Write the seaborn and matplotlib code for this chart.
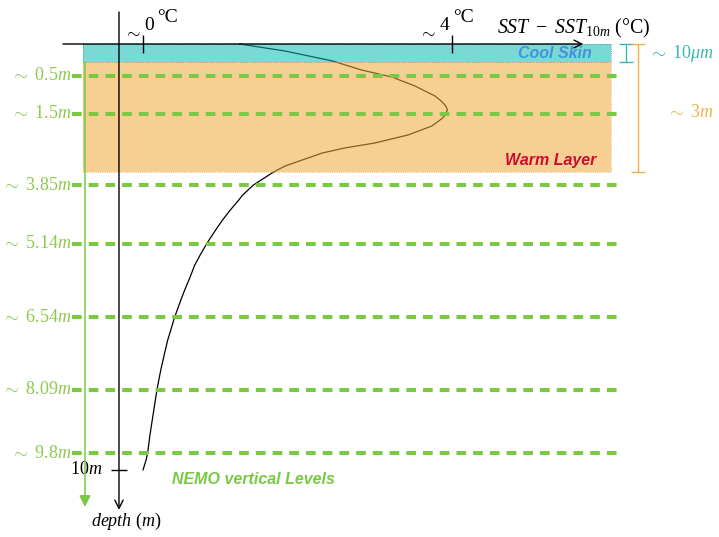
import numpy as np
import matplotlib
matplotlib.use("Agg")
import matplotlib.pyplot as plt
from matplotlib.patches import Rectangle
import seaborn as sns

# NEMO vertical levels (m)
level_depths = [0.5, 1.5, 3.85, 5.14, 6.54, 8.09, 9.8]
level_labels = ["0.5", "1.5", "3.85", "5.14", "6.54", "8.09", "9.8"]

# SST - SST10m profile: depth (m) and temperature difference (degC)
profile_depth = [0.0, 3.9e-6, 9.4e-6, 0.286, 0.526, 0.763, 1.026, 1.158, 1.289,
                 1.395, 1.5, 1.603, 1.810, 2.043, 2.25, 2.379, 2.509, 2.69,
                 2.845, 2.948, 3.065, 3.392, 3.85, 4.069, 4.178, 4.397, 4.615,
                 4.834, 5.118, 5.351, 5.543, 5.773, 6.022, 6.214, 6.54, 6.816,
                 7.028, 7.304, 7.665, 8.09, 8.497, 8.904, 9.311, 9.8, 9.882,
                 10.0]
profile_temp = [1.25, 1.84, 2.45, 2.83, 3.22, 3.52, 3.78, 3.86, 3.92,
                3.94, 3.92, 3.88, 3.74, 3.43, 3.00, 2.61, 2.32, 2.06,
                1.84, 1.74, 1.67, 1.57, 1.43, 1.29, 1.24, 1.13, 1.03,
                0.94, 0.83, 0.74, 0.67, 0.61, 0.54, 0.49, 0.41, 0.36,
                0.32, 0.28, 0.23, 0.18, 0.15, 0.12, 0.09, 0.06, 0.04,
                0.0]

# Layers (m)
cool_skin = (0.0, 1e-5)
warm_layer = (1e-5, 3.0)
temp_ticks = [0, 4]
temp_tick_labels = ["0", "4"]
bottom_depth = 10.0

# Schematic (not to scale) depth axis: depth knots and their vertical positions
axis_depth = [-1.0, 0.0, 1e-5, 0.5, 1.5, 3.0, 3.85, 5.14, 6.54, 8.09, 9.8, 10.0, 11.0]
schematic_pos = [-20, 44, 62, 76, 114, 172, 185, 244, 317, 390, 453, 470, 555]

GREEN = "#7ac943"
GREEN_TXT = "#8dc84f"
TEAL = "#3ab7b3"
ORANGE = "#efb24c"

sns.set_style("white")
plt.rcParams.update({
    "font.family": ["Liberation Serif", "DejaVu Serif"],
    "mathtext.fontset": "custom",
    "mathtext.rm": "Liberation Serif",
    "mathtext.it": "Liberation Serif:italic",
    "mathtext.bf": "Liberation Serif:bold",
})


def to_pos(d):
    return np.interp(np.asarray(d, dtype=float), axis_depth, schematic_pos)


def to_depth(p):
    return np.interp(np.asarray(p, dtype=float), schematic_pos, axis_depth)


fig = plt.figure(figsize=(7.19, 5.37), dpi=100)
ax = fig.add_axes([0, 0, 1, 1])
ax.set_yscale("function", functions=(to_pos, to_depth))

# temperature profile (drawn beneath the translucent layers)
sns.lineplot(x=profile_temp, y=profile_depth, orient="y", sort=True,
             estimator=None, color="black", lw=0.9, ax=ax, zorder=1)

# cool skin and warm layer
x_left, x_right = -0.777, 6.058
ax.add_patch(Rectangle((x_left, cool_skin[0]), x_right - x_left,
                       cool_skin[1] - cool_skin[0], facecolor="#0db8b4",
                       alpha=0.55, edgecolor="none", zorder=2))
ax.add_patch(Rectangle((x_left, warm_layer[0]), x_right - x_left,
                       warm_layer[1] - warm_layer[0], facecolor="#f2a83b",
                       alpha=0.55, edgecolor="none", zorder=2))
ax.add_patch(Rectangle((x_left, cool_skin[0]), x_right - x_left,
                       cool_skin[1] - cool_skin[0], fill=False,
                       edgecolor="#3f8f8d", lw=0.6, ls=":", zorder=2.1))
ax.add_patch(Rectangle((x_left, warm_layer[0]), x_right - x_left,
                       warm_layer[1] - warm_layer[0], fill=False,
                       edgecolor="#d9a45c", lw=0.6, ls=":", zorder=2.1))

# NEMO levels
ax.hlines(level_depths, -0.919, 6.18, colors=GREEN, lw=2.9,
          linestyles=[(0, (2.4, 1.75))], zorder=3)
for d, lab in zip(level_depths, level_labels):
    ax.text(-0.93, d, rf"$\sim\ {lab}m$", ha="right", va="center",
            fontsize=13, color=GREEN_TXT, zorder=4)

# green level axis
ax.annotate("", xy=(-0.751, 10.435), xytext=(-0.751, warm_layer[0]),
            arrowprops=dict(arrowstyle="-|>", color=GREEN, lw=1.1,
                            mutation_scale=17, shrinkA=0, shrinkB=0),
            zorder=4)

# temperature axis along the surface
ax.annotate("", xy=(5.70, 0.0), xytext=(-1.036, 0.0),
            arrowprops=dict(arrowstyle="->", color="black", lw=1.0,
                            mutation_scale=14, shrinkA=0, shrinkB=0),
            zorder=5)
ax.plot(temp_ticks, [0.0] * len(temp_ticks), ls="none", marker="|",
        ms=13.5, mew=1.0, color="black", zorder=5)
for t, lab in zip(temp_ticks, temp_tick_labels):
    dx = 6.5 if t == 0 else -7
    ax.annotate(r"$\sim$", (t, 0.0), xytext=(dx - 17, 12),
                textcoords="offset pixels", ha="center", va="center",
                fontsize=12.5, color="black")
    ax.annotate(lab, (t, 0.0), xytext=(dx, 19), textcoords="offset pixels",
                ha="center", va="center", fontsize=14, color="black")
    ax.annotate("°C", (t, 0.0), xytext=(dx + 18, 27),
                textcoords="offset pixels", ha="center", va="center",
                fontsize=14, color="black")
ax.text(4.58, -0.25, r"$SST\ -\ SST_{10m}$ (°C)", ha="left", va="center",
        fontsize=14.3, color="black")

# depth axis
ax.annotate("", xy=(-0.311, 10.47), xytext=(-0.311, -0.5),
            arrowprops=dict(arrowstyle="->", color="black", lw=1.0,
                            mutation_scale=15, shrinkA=0, shrinkB=0),
            zorder=5)
ax.plot([-0.311], [bottom_depth], ls="none", marker="_", ms=11.5, mew=1.0,
        color="black", zorder=5)
ax.text(-0.53, bottom_depth, r"$10m$", ha="right", va="center", fontsize=13,
        color="black")
ax.text(-0.22, 10.61, r"$depth\ (m)$", ha="center", va="center", fontsize=13,
        color="black")

# layer labels
ax.text(5.812, 5e-6, "Cool Skin", ha="right", va="center", fontsize=11.5,
        fontweight="bold", fontstyle="italic", family="Liberation Sans",
        color="#4a8fdc", zorder=6)
ax.text(5.864, 2.69, "Warm Layer", ha="right", va="center", fontsize=11.5,
        fontweight="bold", fontstyle="italic", family="Liberation Sans",
        color="#c8102e", zorder=6)
ax.text(0.375, 10.106, "NEMO vertical Levels", ha="left", va="center",
        fontsize=11.5, fontweight="bold", fontstyle="italic",
        family="Liberation Sans", color=GREEN, zorder=6)

# thickness brackets
ax.plot([6.252, 6.252], list(cool_skin), marker="_", ms=9.5, mew=1.0,
        lw=1.0, color=TEAL)
ax.text(6.55, 5e-6, r"$\sim\ 10\mu m$", ha="left", va="center", fontsize=13,
        color=TEAL)
ax.plot([6.408, 6.408], [0.0, warm_layer[1]], marker="_", ms=9.5, mew=1.0,
        lw=1.0, color=ORANGE)
ax.text(6.78, 1.45, r"$\sim\ 3m$", ha="left", va="center", fontsize=13,
        color=ORANGE)

ax.set_xlim(-143 / 77.25, 576 / 77.25)
ax.set_ylim(to_depth(537), to_depth(0))
ax.set_axis_off()

fig.savefig("out.png", dpi=100)
